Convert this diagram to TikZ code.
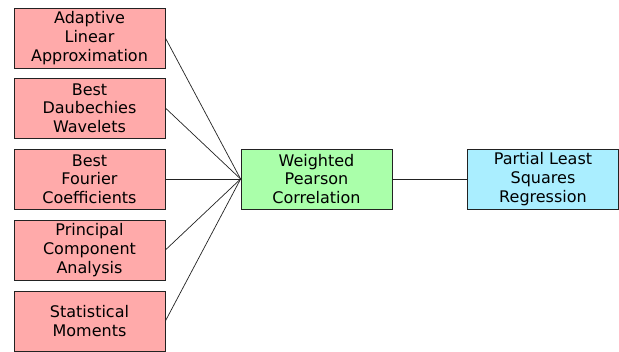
\documentclass[tikz,border=0pt]{standalone}
\usepackage{fontspec}
\setmainfont{DejaVu Sans}
\definecolor{pinkfill}{HTML}{FFAAAA}
\definecolor{greenfill}{HTML}{AAFFAA}
\definecolor{cyanfill}{HTML}{AAEEFF}
\definecolor{edgecol}{HTML}{222222}
\begin{document}
\begin{tikzpicture}[x=1pt,y=-1pt,
  box/.style={draw=edgecol,line width=0.8pt,minimum width=151pt,minimum height=60pt,inner sep=0pt,align=center,font=\fontsize{16}{18.6}\selectfont,text=black},
  featbox/.style={box,fill=pinkfill},
  midbox/.style={box,fill=greenfill},
  resbox/.style={box,fill=cyanfill},
  link/.style={draw=edgecol,line width=0.7pt}]
\useasboundingbox (0,0) rectangle (619,352);
\node[featbox] (a) at (89.5,38) {Adaptive\\Linear\\Approximation};
\node[featbox] (b) at (89.5,108) {Best\\Daubechies\\Wavelets};
\node[featbox] (c) at (89.5,179) {Best\\Fourier\\Coefficients};
\node[featbox] (d) at (89.5,250) {Principal\\Component\\Analysis};
\node[featbox] (e) at (89.5,321) {Statistical\\Moments};
\node[midbox] (w) at (316.5,179) {Weighted\\Pearson\\Correlation};
\node[resbox] (p) at (543,179) {Partial Least\\Squares\\Regression};
\foreach \n in {a,b,c,d,e}{\draw[link] (\n.east) -- (w.west);}
\draw[link] (w.east) -- (p.west);
\end{tikzpicture}
\end{document}
